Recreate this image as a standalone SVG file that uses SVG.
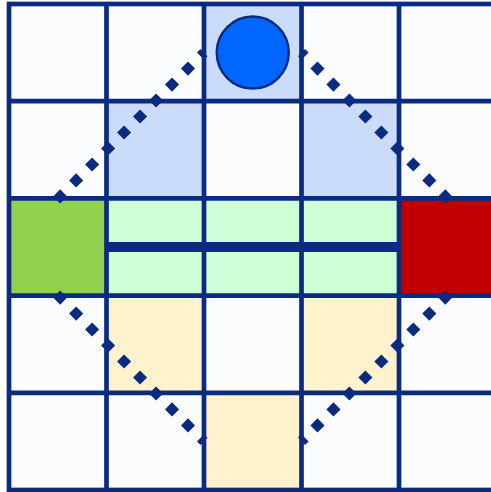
<svg xmlns="http://www.w3.org/2000/svg" width="491" height="492" viewBox="0 0 491 492">
<style>
.grid{stroke:#0a2b80;stroke-width:4.7;fill:none}
.dots{stroke:#0a2b80;stroke-width:10;stroke-dasharray:10 12.6;stroke-dashoffset:5;fill:none}
.blue{fill:#cadcfa}.green{fill:#92d050}.red{fill:#c00000}.mint{fill:#ccffd6}.yellow{fill:#fff2cc}
</style>
<rect x="0" y="0" width="491" height="492" fill="#ffffff"/>
<rect x="9" y="4" width="487.5" height="486" fill="#fbfcfe"/>
<g id="cell-top"><rect class="blue" x="204" y="4" width="97.5" height="97.2"/></g>
<g id="cell-r1c1"><rect class="blue" x="106.5" y="101.2" width="97.5" height="97.2"/></g>
<g id="cell-r1c3"><rect class="blue" x="301.5" y="101.2" width="97.5" height="97.2"/></g>
<g id="cell-left"><rect class="green" x="9" y="198.4" width="97.5" height="97.2"/></g>
<g id="cell-r2c1"><rect class="mint" x="106.5" y="198.4" width="97.5" height="97.2"/></g>
<g id="cell-r2c2"><rect class="mint" x="204" y="198.4" width="97.5" height="97.2"/></g>
<g id="cell-r2c3"><rect class="mint" x="301.5" y="198.4" width="97.5" height="97.2"/></g>
<g id="cell-right"><rect class="red" x="399" y="198.4" width="97.5" height="97.2"/></g>
<g id="cell-r3c1"><rect class="yellow" x="106.5" y="295.6" width="97.5" height="97.2"/></g>
<g id="cell-r3c3"><rect class="yellow" x="301.5" y="295.6" width="97.5" height="97.2"/></g>
<g id="cell-bottom"><rect class="yellow" x="204" y="392.8" width="97.5" height="97.2"/></g>
<g id="grid" class="grid">
<rect x="9" y="4" width="487.5" height="486"/>
<line x1="106.5" y1="4" x2="106.5" y2="490"/>
<line x1="204" y1="4" x2="204" y2="490"/>
<line x1="301.5" y1="4" x2="301.5" y2="490"/>
<line x1="399" y1="4" x2="399" y2="490"/>
<line x1="9" y1="101.2" x2="496.5" y2="101.2"/>
<line x1="9" y1="198.4" x2="496.5" y2="198.4"/>
<line x1="9" y1="295.6" x2="496.5" y2="295.6"/>
<line x1="9" y1="392.8" x2="496.5" y2="392.8"/>
</g>
<g id="ball"><circle cx="252.75" cy="52.6" r="36" fill="#0066ff" stroke="#0a2b80" stroke-width="2.5"/></g>
<g id="connectors">
<line class="dots" x1="204" y1="52.6" x2="56" y2="200.6"/>
<line class="dots" x1="301.5" y1="52.6" x2="449.5" y2="200.6"/>
<line class="dots" x1="204" y1="441.4" x2="56" y2="293.4"/>
<line class="dots" x1="301.5" y1="441.4" x2="449.5" y2="293.4"/>
<line x1="106.5" y1="247" x2="399" y2="247" stroke="#0a2b80" stroke-width="10"/>
</g>
</svg>
